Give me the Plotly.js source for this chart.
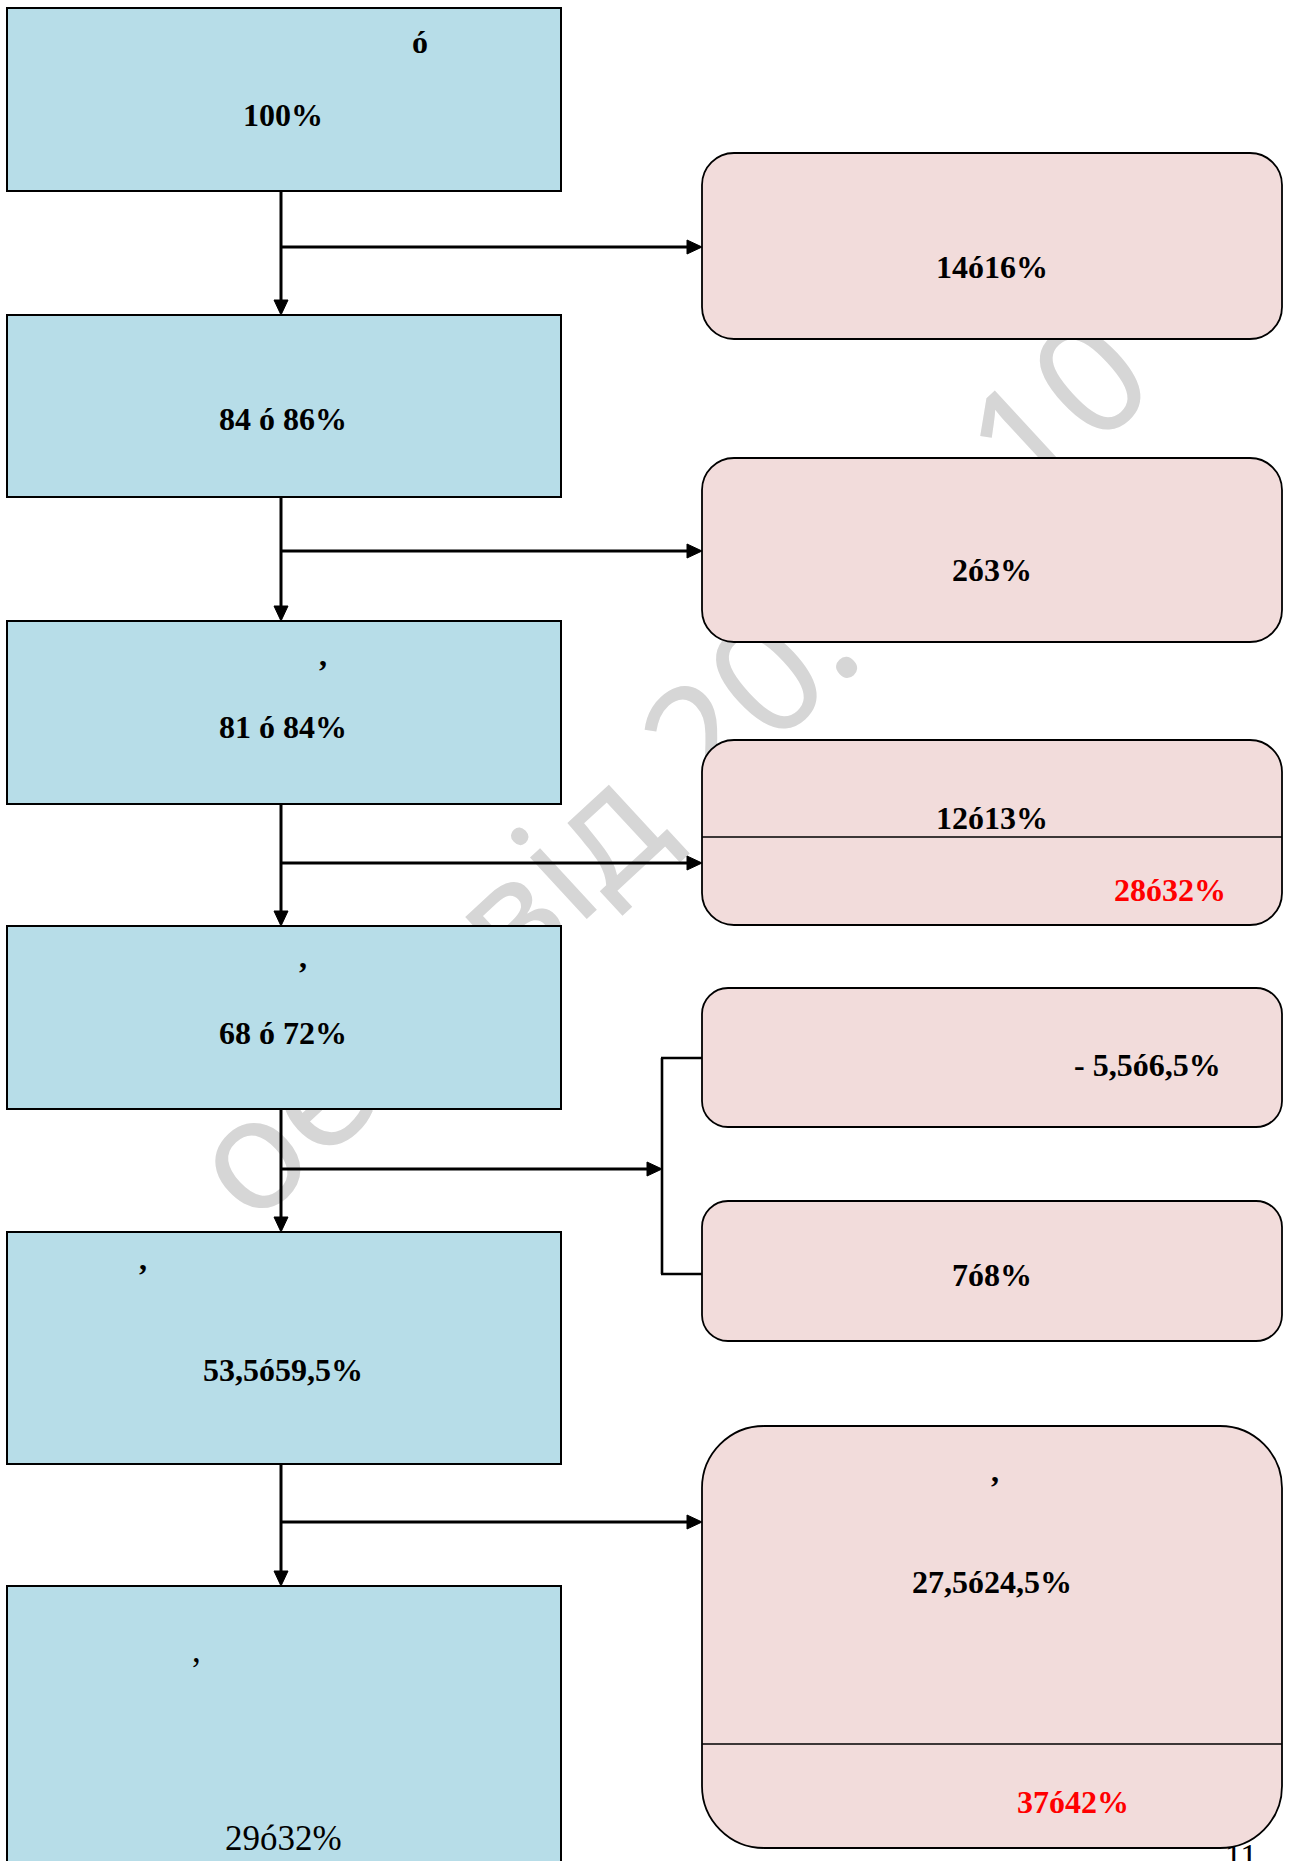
<!DOCTYPE html>
<html>
<head>
<meta charset="utf-8">
<script src="https://cdn.plot.ly/plotly-3.0.1.min.js"></script>
<style>
html,body{margin:0;padding:0;background:#fff;}
#chart{width:1294px;height:1861px;}
</style>
</head>
<body>
<div id="chart"></div>
<script>
// ---- content (text values) ----
const leftValues  = ["100%", "84 ó 86%", "81 ó 84%", "68 ó 72%", "53,5ó59,5%", "29ó32%"];
const leftMarks   = ["ó", "", ",", ",", ",", ","];
const leftBold    = [true, true, true, true, true, false];
const rightValues = ["14ó16%", "2ó3%", "12ó13%", "- 5,5ó6,5%", "7ó8%", "27,5ó24,5%"];
const rightRed    = ["", "", "28ó32%", "", "", "37ó42%"];
const rightMarks  = ["", "", "", "", "", ","];
const watermarkText = "оепі від 20.04.10";
const pageNumber = "11";

// ---- geometry (layout only) ----
const W = 1294, H = 1861;
const L = {x0: 7, x1: 561, cx: 281};
const leftY = [[8,191],[315,497],[621,804],[926,1109],[1232,1464],[1586,1880]];
const leftValY = [115, 419, 727, 1033, 1370, 1838];
const leftMarkPos = [[420,42],null,[323,655],[303,957],[143,1259],[196,1650]];
const R = {x0: 702, x1: 1282};
const rightY = [[153,339],[458,642],[740,925],[988,1127],[1201,1341],[1426,1848]];
const rightRad = [32,32,32,26,26,62];
const rightValPos = [[992,267],[992,570],[992,818],[1147,1065],[992,1275],[992,1582]];
const rightRedPos = [null,null,[1170,890],null,null,[1073,1802]];
const rightMarkPos = [null,null,null,null,null,[995,1471]];
const dividerY = [null,null,837,null,null,1744];
const hArrowY = [247, 551, 863, 1169, 1522];
const bracket = {x: 662, y0: 1058, y1: 1274};

const BLUE = "#b7dde8", PINK = "#f2dcdb";
const shapes = [];
const annotations = [];

// watermark (drawn first so the boxes cover it)
shapes.push({type:"line", xref:"x", yref:"y", x0:153, y0:1252, x1:1193, y1:292,
  line:{color:"rgba(0,0,0,0)", width:0}, layer:"above",
  label:{text: watermarkText, textposition:"middle", yanchor:"middle",
    font:{family:"Noto Sans", size:156, color:"#d6d6d6"}}});
// page number, partly hidden under the last box
shapes.push({type:"rect", xref:"x", yref:"y", x0:1200, x1:1282, y0:1834, y1:1868,
  line:{width:0}, fillcolor:"rgba(0,0,0,0)", layer:"above",
  label:{text: pageNumber, textposition:"middle center",
    font:{family:"Liberation Serif", size:34, color:"#000"}}});

function rr(x0,y0,x1,y1,r){
  const k = 0.5523*r;
  return `M ${x0+r},${y0} L ${x1-r},${y0} C ${x1-r+k},${y0} ${x1},${y0+r-k} ${x1},${y0+r} ` +
         `L ${x1},${y1-r} C ${x1},${y1-r+k} ${x1-r+k},${y1} ${x1-r},${y1} ` +
         `L ${x0+r},${y1} C ${x0+r-k},${y1} ${x0},${y1-r+k} ${x0},${y1-r} ` +
         `L ${x0},${y0+r} C ${x0},${y0+r-k} ${x0+r-k},${y0} ${x0+r},${y0} Z`;
}
function line(x0,y0,x1,y1,w){
  shapes.push({type:"line", xref:"x", yref:"y", x0, y0, x1, y1, layer:"above",
    line:{color:"#000", width:w}});
}
function headDown(x,y){
  shapes.push({type:"path", xref:"x", yref:"y", layer:"above",
    path:`M ${x-7},${y-15} L ${x+7},${y-15} L ${x},${y} Z`, fillcolor:"#000", line:{color:"#000", width:1}});
}
function headRight(x,y){
  shapes.push({type:"path", xref:"x", yref:"y", layer:"above",
    path:`M ${x-15},${y-7} L ${x-15},${y+7} L ${x},${y} Z`, fillcolor:"#000", line:{color:"#000", width:1}});
}
function text(t,x,y,opts){
  opts = opts || {};
  const bold = opts.bold !== false;
  annotations.push({text:t, x, y, xref:"x", yref:"y", showarrow:false,
    xanchor:"center", yanchor:"middle",
    font:{family:"Liberation Serif", size: bold ? 32 : 35, color:opts.color||"#000",
      weight: bold ? "bold" : "normal"}});
}

// left boxes
leftY.forEach((yy,i)=>{
  shapes.push({type:"rect", xref:"x", yref:"y", x0:L.x0, x1:L.x1, y0:yy[0], y1:yy[1],
    fillcolor:BLUE, line:{color:"#000", width:2}, layer:"above"});
  text(leftValues[i], L.cx+2, leftValY[i], {bold:leftBold[i]});
  if (leftMarks[i] && leftMarkPos[i]) text(leftMarks[i], leftMarkPos[i][0], leftMarkPos[i][1], {bold:leftBold[i]});
});
// right boxes
rightY.forEach((yy,i)=>{
  shapes.push({type:"path", xref:"x", yref:"y", layer:"above",
    path: rr(R.x0, yy[0], R.x1, yy[1], rightRad[i]),
    fillcolor:PINK, line:{color:"#000", width:1.8}});
  if (dividerY[i]) line(R.x0, dividerY[i], R.x1, dividerY[i], 1.6);
  text(rightValues[i], rightValPos[i][0], rightValPos[i][1]);
  if (rightRed[i]) text(rightRed[i], rightRedPos[i][0], rightRedPos[i][1], {color:"#ff0000"});
  if (rightMarks[i]) text(rightMarks[i], rightMarkPos[i][0], rightMarkPos[i][1]);
});
// vertical arrows between left boxes
for (let i=0;i<leftY.length-1;i++){
  line(L.cx, leftY[i][1], L.cx, leftY[i+1][0]-12, 3);
  headDown(L.cx, leftY[i+1][0]);
}
// horizontal arrows
hArrowY.forEach((y,i)=>{
  const xe = (i===3) ? bracket.x : R.x0;
  line(L.cx, y, xe-12, y, 3);
  headRight(xe, y);
});
// bracket to the two boxes
line(bracket.x, bracket.y0, bracket.x, bracket.y1, 2.6);
line(bracket.x-1, bracket.y0, R.x0, bracket.y0, 2.6);
line(bracket.x-1, bracket.y1, R.x0, bracket.y1, 2.6);

const layout = {
  width: W, height: H,
  margin:{l:0,r:0,t:0,b:0},
  paper_bgcolor:"#fff", plot_bgcolor:"#fff",
  xaxis:{range:[0,W], visible:false, fixedrange:true},
  yaxis:{range:[H,0], visible:false, fixedrange:true},
  showlegend:false,
  shapes, annotations
};
Plotly.newPlot("chart", [], layout, {staticPlot:true, displayModeBar:false});
</script>
</body>
</html>
